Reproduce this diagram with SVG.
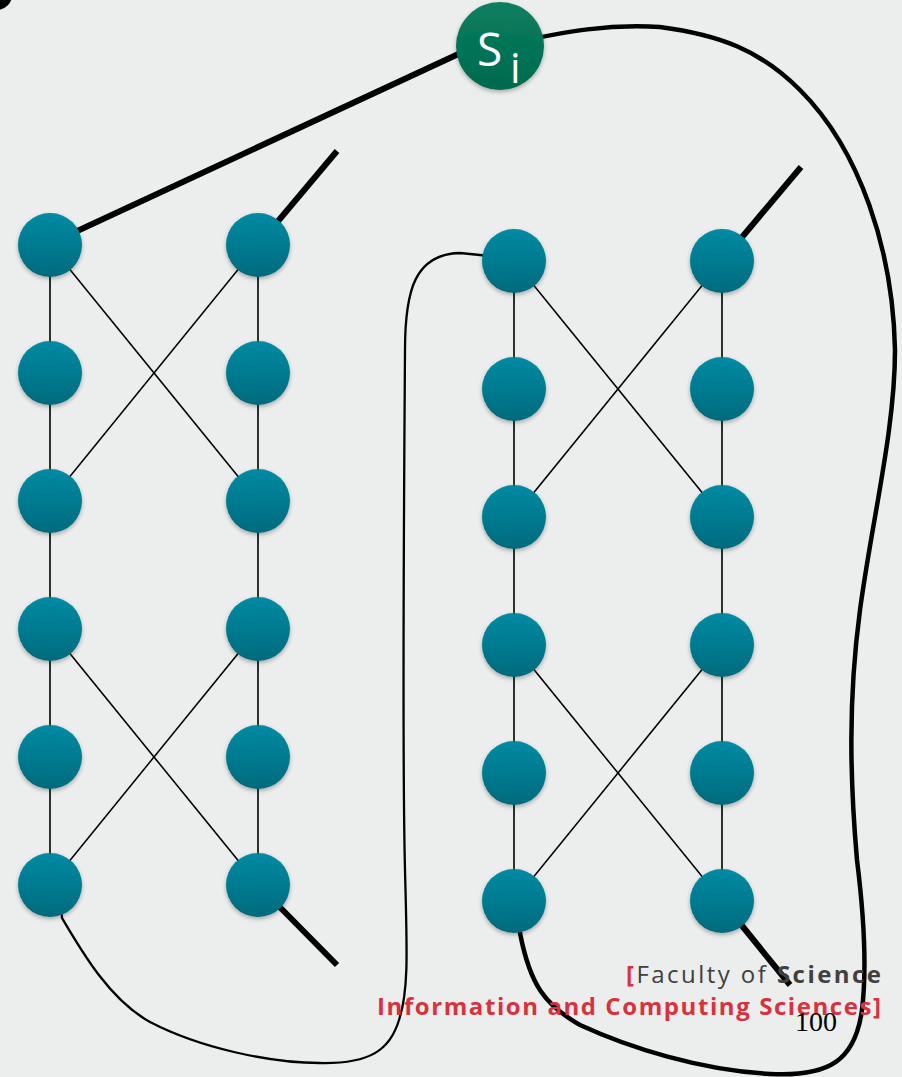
<svg xmlns="http://www.w3.org/2000/svg" width="902" height="1077" viewBox="0 0 902 1077">
<defs>
<linearGradient id="gNode" x1="0" y1="0" x2="0" y2="1">
<stop offset="0" stop-color="#008aa3"/>
<stop offset="1" stop-color="#006a7e"/>
</linearGradient>
<linearGradient id="gSi" x1="0" y1="0" x2="0" y2="1">
<stop offset="0" stop-color="#0a7e60"/>
<stop offset="1" stop-color="#006a4e"/>
</linearGradient>
<filter id="sh" x="-30%" y="-30%" width="160%" height="170%">
<feDropShadow dx="0" dy="2" stdDeviation="2" flood-color="#000" flood-opacity="0.3"/>
</filter>
</defs>
<style>
.n{fill:url(#gNode);filter:url(#sh)}
.thin{stroke:#000;stroke-width:1.6;fill:none}
.stub{stroke:#000;stroke-width:6;fill:none}
.loopA{stroke:#000;stroke-width:2.3;fill:none}
.loopB{stroke:#000;stroke-width:4.5;fill:none}
.lbl{font-family:"Open Sans","Noto Sans","Liberation Sans",sans-serif;font-size:24px}
</style>
<rect width="902" height="1077" fill="#eceeed"/>
<circle cx="-3" cy="-5" r="15" fill="#000"/>

<g id="connectors">
<line class="thin" x1="50" y1="245" x2="50" y2="885"/>
<line class="thin" x1="258" y1="245" x2="258" y2="885"/>
<line class="thin" x1="50" y1="245" x2="258" y2="501"/>
<line class="thin" x1="258" y1="245" x2="50" y2="501"/>
<line class="thin" x1="50" y1="629" x2="258" y2="885"/>
<line class="thin" x1="258" y1="629" x2="50" y2="885"/>
<line class="thin" x1="514" y1="261" x2="514" y2="901"/>
<line class="thin" x1="722" y1="261" x2="722" y2="901"/>
<line class="thin" x1="514" y1="261" x2="722" y2="517"/>
<line class="thin" x1="722" y1="261" x2="514" y2="517"/>
<line class="thin" x1="514" y1="645" x2="722" y2="901"/>
<line class="thin" x1="722" y1="645" x2="514" y2="901"/>
<line class="stub" x1="258" y1="245" x2="337" y2="151"/>
<line class="stub" x1="258" y1="885" x2="337" y2="965"/>
<line class="stub" x1="722" y1="261" x2="801" y2="167"/>
<line class="stub" x1="722" y1="901" x2="790" y2="985"/>
<line class="stub" x1="60" y1="239" x2="480" y2="44"/>
<path class="loopA" d="M 50 885 C 60 905, 62 915, 62 918 C 82 952, 110 1000, 150 1022 C 200 1048, 270 1063, 320 1063 C 370 1064, 390 1050, 399 1020 C 409 990, 407 950, 405 870 C 402 750, 404 500, 405 350 C 405 290, 415 254, 460 253 L 490 256"/>
<path class="loopB" d="M 514 901 C 518 915, 519 925, 520 933 C 530 985, 545 1005, 580 1025 C 630 1048, 700 1070, 770 1074 C 830 1077, 855 1060, 862 1010 C 868 960, 862 900, 857 860 C 850 780, 848 700, 860 610 C 872 520, 895 430, 895 350 C 893 250, 860 150, 800 90 C 760 50, 720 35, 660 27 C 610 24, 570 30, 500 46"/>
</g>

<g id="si">
<circle cx="500" cy="46" r="44" fill="url(#gSi)" filter="url(#sh)"/>
<text x="477" y="66" fill="#fff" font-family="'Open Sans','Noto Sans',sans-serif" font-size="46">S<tspan x="510" y="83" font-size="42">i</tspan></text>
</g>

<g id="L1"><circle class="n" cx="50" cy="245" r="32"/></g>
<g id="L2"><circle class="n" cx="50" cy="373" r="32"/></g>
<g id="L3"><circle class="n" cx="50" cy="501" r="32"/></g>
<g id="L4"><circle class="n" cx="50" cy="629" r="32"/></g>
<g id="L5"><circle class="n" cx="50" cy="757" r="32"/></g>
<g id="L6"><circle class="n" cx="50" cy="885" r="32"/></g>
<g id="L7"><circle class="n" cx="258" cy="245" r="32"/></g>
<g id="L8"><circle class="n" cx="258" cy="373" r="32"/></g>
<g id="L9"><circle class="n" cx="258" cy="501" r="32"/></g>
<g id="L10"><circle class="n" cx="258" cy="629" r="32"/></g>
<g id="L11"><circle class="n" cx="258" cy="757" r="32"/></g>
<g id="L12"><circle class="n" cx="258" cy="885" r="32"/></g>
<g id="R1"><circle class="n" cx="514" cy="261" r="32"/></g>
<g id="R2"><circle class="n" cx="514" cy="389" r="32"/></g>
<g id="R3"><circle class="n" cx="514" cy="517" r="32"/></g>
<g id="R4"><circle class="n" cx="514" cy="645" r="32"/></g>
<g id="R5"><circle class="n" cx="514" cy="773" r="32"/></g>
<g id="R6"><circle class="n" cx="514" cy="901" r="32"/></g>
<g id="R7"><circle class="n" cx="722" cy="261" r="32"/></g>
<g id="R8"><circle class="n" cx="722" cy="389" r="32"/></g>
<g id="R9"><circle class="n" cx="722" cy="517" r="32"/></g>
<g id="R10"><circle class="n" cx="722" cy="645" r="32"/></g>
<g id="R11"><circle class="n" cx="722" cy="773" r="32"/></g>
<g id="R12"><circle class="n" cx="722" cy="901" r="32"/></g>

<g id="footer">
<text class="lbl" x="626" y="983" textLength="255" lengthAdjust="spacing"><tspan fill="#d8323e" font-weight="bold">[</tspan><tspan fill="#404040">Faculty of </tspan><tspan fill="#404040" font-weight="bold">Science</tspan></text>
<text class="lbl" x="377" y="1015" fill="#d8323e" font-weight="bold" textLength="504" lengthAdjust="spacing">Information and Computing Sciences]</text>
<text x="795" y="1031" font-family="'Liberation Serif',serif" font-size="28" fill="#000">100</text>
</g>
</svg>
